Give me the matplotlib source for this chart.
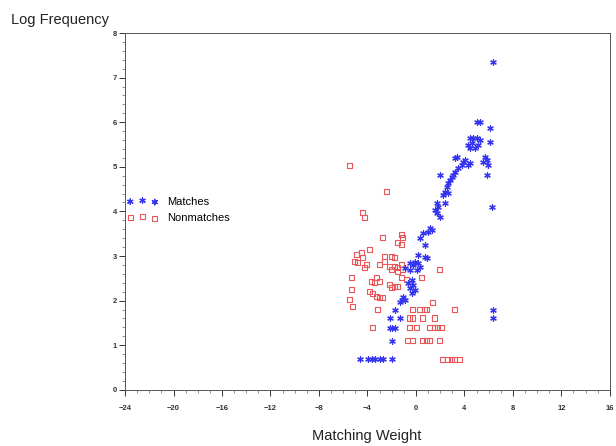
import matplotlib
matplotlib.use("Agg")
import matplotlib.pyplot as plt
from matplotlib.ticker import MultipleLocator

plt.rcParams['font.family'] = ['Liberation Sans', 'DejaVu Sans']

# Matches: matching weight vs log frequency
match_weight = [6.35, 5.03, 5.28, 6.10, 4.45, 4.70, 5.03, 5.28, 6.10, 4.62,
                4.29, 5.11, 4.45, 4.87, 5.69, 5.86, 5.53, 5.94, 3.38, 3.22,
                4.04, 3.88, 4.45, 3.79, 4.29, 3.46, 3.22, 3.05, 2.97, 2.80,
                2.64, 1.98, 5.86, 2.56, 2.39, 2.23, 2.64, 1.73, 2.39, 1.81,
                1.57, 1.73, 1.98, 6.27, 1.15, 0.99, 1.32, 0.58, 0.33, 0.74,
                0.16, 0.74, 0.91, -0.08, 0.16, -0.49, -0.25, 0.33, -0.91, -0.49,
                0.08, -0.33, -0.66, -0.25, -0.49, -0.08, -0.33, -1.07, -1.15, -1.32,
                -0.91, -1.73, -2.14, -1.32, -2.14, -1.98, -1.73, -1.98, -4.62, -3.96,
                -3.63, -3.38, -2.97, -2.72, -1.98, 6.35, 6.35]
match_logfreq = [7.35, 6.01, 6.01, 5.87, 5.65, 5.65, 5.65, 5.61, 5.56, 5.54,
                 5.49, 5.49, 5.43, 5.43, 5.22, 5.16, 5.11, 5.04, 5.22, 5.20,
                 5.16, 5.11, 5.09, 5.04, 5.04, 4.98, 4.89, 4.82, 4.78, 4.71,
                 4.64, 4.82, 4.82, 4.55, 4.44, 4.37, 4.42, 4.19, 4.19, 4.10,
                 4.04, 3.97, 3.88, 4.10, 3.63, 3.54, 3.59, 3.52, 3.41, 3.25,
                 3.03, 2.98, 2.96, 2.87, 2.85, 2.85, 2.80, 2.76, 2.74, 2.69,
                 2.69, 2.47, 2.40, 2.35, 2.29, 2.24, 2.17, 2.09, 2.02, 1.97,
                 2.02, 1.79, 1.61, 1.61, 1.39, 1.39, 1.39, 1.10, 0.69, 0.69,
                 0.69, 0.69, 0.69, 0.69, 0.69, 1.79, 1.61]

# Nonmatches: matching weight vs log frequency
nonmatch_weight = [-5.44, -2.39, -4.37, -4.21, -2.72, -1.15, -1.07, -1.48, -1.15, -3.79,
                   -4.45, -4.87, -5.03, -4.78, -4.37, -4.04, -4.21, -2.56, -1.98, -1.73,
                   -2.56, -2.97, -2.14, -1.98, -1.73, -1.48, -1.15, -1.48, -1.07, -5.28,
                   -3.22, -3.63, -2.97, -3.38, -1.15, -0.74, 0.49, 1.98, -2.14, -1.73,
                   -1.98, -1.48, -5.28, -3.79, -3.55, -3.22, -2.97, -2.72, -5.44, -5.20,
                   1.40, -3.13, -0.25, 0.33, 0.74, 0.91, 3.22, -0.49, -0.25, 0.58,
                   1.57, -3.55, -0.49, 0.08, 1.15, 1.57, 1.81, 2.14, -0.66, -0.25,
                   0.58, 0.91, 1.15, 1.98, 2.23, 2.64, 2.97, 3.22, 3.63]
nonmatch_logfreq = [5.04, 4.44, 3.97, 3.86, 3.41, 3.48, 3.41, 3.30, 3.25, 3.14,
                    3.07, 3.03, 2.87, 2.85, 2.96, 2.80, 2.74, 2.98, 2.98, 2.96,
                    2.87, 2.80, 2.76, 2.69, 2.76, 2.74, 2.80, 2.65, 2.69, 2.51,
                    2.51, 2.42, 2.42, 2.40, 2.51, 2.47, 2.51, 2.69, 2.35, 2.31,
                    2.29, 2.31, 2.24, 2.20, 2.17, 2.09, 2.06, 2.06, 2.02, 1.86,
                    1.95, 1.79, 1.79, 1.79, 1.79, 1.79, 1.79, 1.61, 1.61, 1.61,
                    1.61, 1.39, 1.39, 1.39, 1.39, 1.39, 1.39, 1.39, 1.10, 1.10,
                    1.10, 1.10, 1.10, 1.10, 0.69, 0.69, 0.69, 0.69, 0.69]

x_ticks = [-24, -20, -16, -12, -8, -4, 0, 4, 8, 12, 16]
y_ticks = [0, 1, 2, 3, 4, 5, 6, 7, 8]

fig = plt.figure(figsize=(6.16, 4.46), dpi=100)
ax = fig.add_axes([0.203, 0.126, 0.787, 0.800])

ax.scatter(match_weight, match_logfreq, marker=(6, 2, 0), s=16,
           color='#3535f0', linewidths=0.9, label='Matches', zorder=3)
ax.scatter(nonmatch_weight, nonmatch_logfreq, marker='s', s=13,
           facecolors='none', edgecolors='#e8585a', linewidths=0.8,
           label='Nonmatches', zorder=2)

ax.set_xlim(-24, 16)
ax.set_ylim(0, 8)
ax.set_xticks(x_ticks)
ax.set_yticks(y_ticks)
ax.xaxis.set_minor_locator(MultipleLocator(1))
ax.yaxis.set_minor_locator(MultipleLocator(0.2))
ax.tick_params(which='major', direction='out', length=4, width=0.7,
               labelsize=5.5, colors='#333333')
ax.tick_params(axis='x', which='major', pad=7)
ax.tick_params(axis='y', which='major', pad=2)
ax.tick_params(which='minor', direction='out', length=2, width=0.5,
               colors='#666666')
for lbl in ax.get_xticklabels() + ax.get_yticklabels():
    lbl.set_fontweight('bold')
for sp in ax.spines.values():
    sp.set_linewidth(0.7)
    sp.set_color('#555555')

fig.text(0.018, 0.955, 'Log Frequency', fontsize=10.5, color='#222222',
         ha='left', va='center')
fig.text(0.596, 0.022, 'Matching Weight', fontsize=10.5, color='#222222',
         ha='center', va='center')

ax.legend(loc='center left', bbox_to_anchor=(0.004, 0.505), frameon=False,
          scatterpoints=3, fontsize=8, handletextpad=0.8,
          labelspacing=0.55, borderaxespad=0, borderpad=0,
          handlelength=2.8)

fig.savefig('out.png', dpi=100)
